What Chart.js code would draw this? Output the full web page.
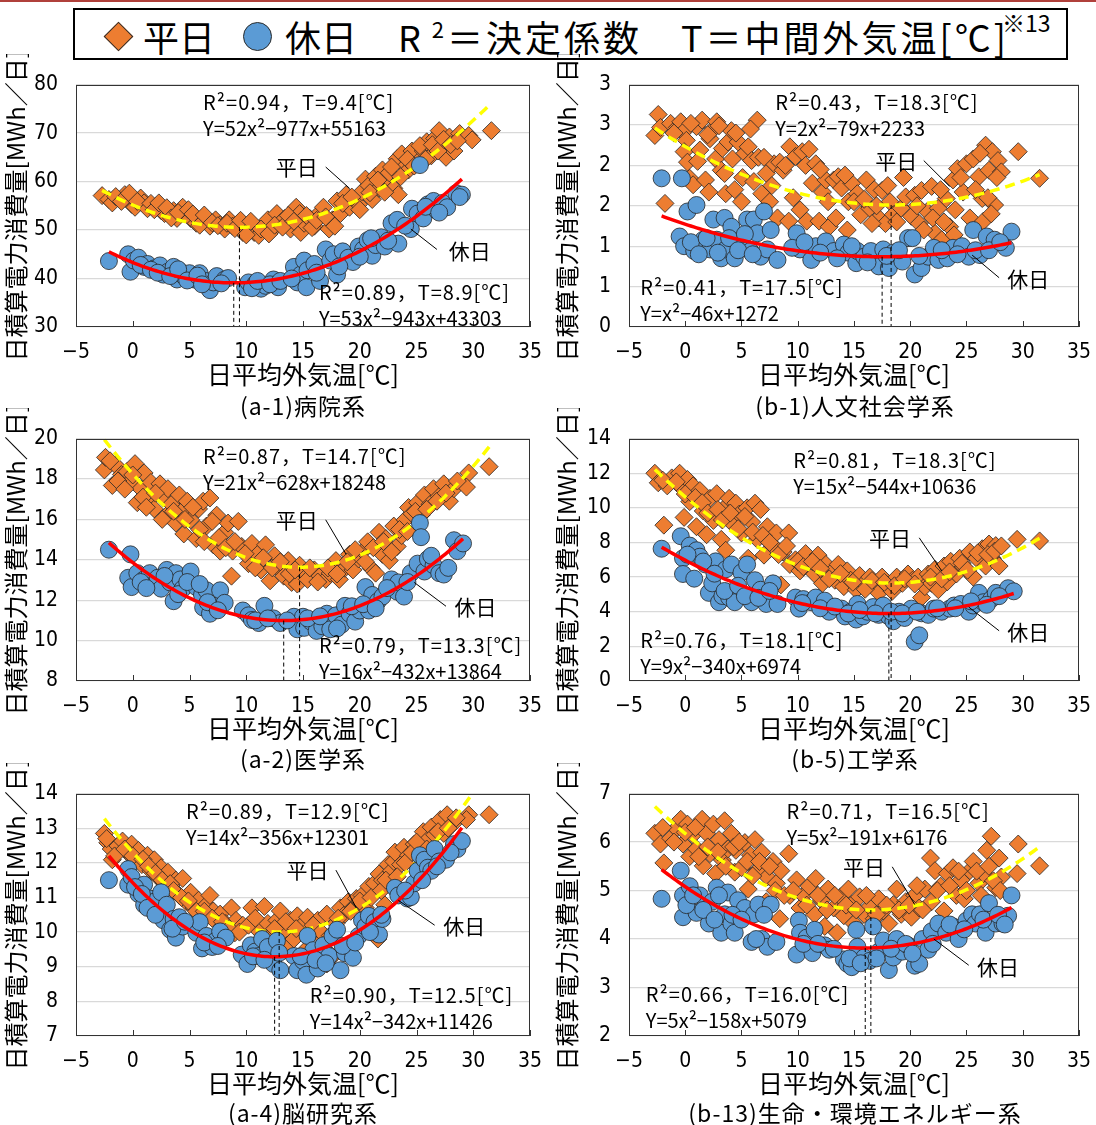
<!DOCTYPE html>
<html lang="ja">
<head>
<meta charset="utf-8">
<title>日平均外気温と日積算電力消費量</title>
<script src="https://cdn.jsdelivr.net/npm/chart.js@4.4.1/dist/chart.umd.min.js"></script>
<style>
  html, body { margin: 0; padding: 0; background: #fff; }
  body { width: 1096px; height: 1125px; position: relative; overflow: hidden;
         font-family: 'Noto Sans CJK JP', 'Noto Sans', sans-serif; color: #000; }
  .topline { position: absolute; left: 0; top: 0; width: 1096px; height: 2px; background: #b0403b; }
  .legend { position: absolute; left: 73px; top: 8px; width: 991px; height: 48px; border: 2px solid #000; }
  .lg { position: absolute; font-size: 36px; line-height: 36px; top: 18px; white-space: nowrap; }
  .lg sup { font-size: 22px; vertical-align: 14px; line-height: 0; }
  .wide { letter-spacing: 3px; }
  .note { position: absolute; font-size: 23px; line-height: 23px; top: 11px; white-space: nowrap; }
  .dia { position: absolute; width: 21px; height: 21px; background: #ED7D31; border: 1px solid #2b2b2b;
         box-sizing: border-box; transform: rotate(45deg); }
  .cir { position: absolute; width: 29px; height: 29px; background: #5B9BD5; border: 1px solid #2b2b2b;
         box-sizing: border-box; border-radius: 50%; }
  canvas { position: absolute; }
  .sub { position: absolute; width: 548px; text-align: center; font-size: 23px; line-height: 28px;
         letter-spacing: 1px; white-space: nowrap; }
</style>
</head>
<body>
<div class="topline"></div>
<div class="legend"></div>
<div class="dia" style="left:108px;top:26px"></div>
<div class="lg" style="left:143px">平日</div>
<div class="cir" style="left:243px;top:22px"></div>
<div class="lg" style="left:285px">休日</div>
<div class="lg wide" style="left:398px">R<sup> 2</sup>＝決定係数</div>
<div class="lg wide" style="left:681px">T＝中間外気温[℃]</div>
<div class="note" style="left:1002px">※13</div>
<div id="panels"></div>

<script>
// ---- axis tick labels ----
const xTickValues = [-5, 0, 5, 10, 15, 20, 25, 30, 35];
const xTickLabels = ['−5', '0', '5', '10', '15', '20', '25', '30', '35'];

// ---- (a-1) 病院系 : [日平均外気温 ℃, 日積算電力消費量 MWh/日] ----
const hospitalWeekday = [
  [-2.7,57.1],[-2.1,56.3],[-1.8,55.6],[-0.7,57.3],[-0.4,56.3],[-0.1,55.3],[0.2,54.7],[0.7,56.6],
  [1.0,55.6],[1.3,54.4],[2.1,55.0],[2.5,54.0],[2.8,53.4],[3.3,53.1],[3.6,54.0],[3.9,52.4],
  [4.4,54.7],[4.7,53.4],[5.1,52.4],[5.6,51.4],[6.1,52.4],[6.5,51.8],[6.8,50.8],[7.3,52.1],
  [7.7,51.1],[8.1,50.2],[8.5,52.1],[8.8,50.8],[9.3,51.4],[9.7,49.5],[10.2,50.5],[10.7,49.5],
  [11.1,48.9],[11.6,50.8],[11.9,52.1],[12.2,49.8],[12.7,53.4],[13.0,51.4],[13.4,52.4],[13.9,50.2],
  [14.4,54.7],[14.7,53.4],[14.8,49.5],[15.1,51.4],[15.6,52.4],[16.0,50.8],[16.4,53.4],[16.8,54.7],
  [17.3,50.2],[17.6,52.1],[18.0,56.0],[18.3,53.4],[18.8,57.3],[19.1,54.7],[19.6,56.3],[19.9,55.3],
  [20.2,57.9],[20.5,60.5],[20.8,59.2],[21.1,56.3],[21.4,61.1],[21.7,58.6],[22.0,62.4],[22.3,60.2],
  [22.6,61.8],[23.0,58.6],[23.3,64.7],[23.4,57.3],[23.7,65.7],[24.0,63.1],[24.3,62.4],[24.6,66.3],
  [25.1,64.0],[25.6,66.3],[25.9,68.2],[26.3,65.3],[26.6,68.9],[27.0,70.5],[27.1,67.3],[27.6,65.0],
  [27.9,69.2],[28.3,66.3],[28.8,69.9],[29.6,69.5],[29.9,68.6],[31.6,70.5],
  [-1.5,56.9],[-1.0,55.9],[-0.3,57.6],[0.4,55.9],[1.6,55.5],[1.9,54.2],[2.3,55.6],[3.0,54.6],
  [3.4,52.5],[4.0,53.6],[4.9,54.2],[5.3,53.3],[5.9,51.0],[6.3,53.1],[7.0,51.5],[7.5,50.9],
  [8.3,51.4],[9.0,50.3],[9.5,52.0],[10.0,49.0],[10.4,51.8],[11.3,50.2],[12.0,49.2],[12.5,51.0],
  [13.2,50.6],[13.7,53.0],[14.2,51.8],[15.3,53.0],[15.8,50.5],[16.2,52.0],[17.0,52.7],[17.8,50.8],
  [18.5,55.5],[19.3,56.8],[20.0,54.2],[20.9,57.7],[21.6,60.3],[22.2,57.8],[22.8,63.0],[23.6,61.0],
  [24.2,64.6],[24.8,63.2],[25.3,67.4],[25.8,64.6],[26.4,67.6],[26.9,66.3],[27.4,68.7],[28.0,67.6],
  [28.6,68.4]
];
const hospitalHoliday = [
  [-2.1,43.6],[-0.4,45.0],[-0.2,41.4],[0.1,43.7],[0.5,44.3],[1.0,42.4],[1.3,43.0],[1.9,42.1],
  [2.4,42.7],[2.7,40.8],[3.1,41.4],[3.6,42.4],[3.9,39.8],[4.2,41.4],[4.5,40.5],[5.0,41.1],
  [5.4,39.8],[5.9,41.1],[6.4,39.5],[6.8,37.6],[7.1,39.2],[7.4,40.5],[8.1,39.8],[8.4,40.1],
  [9.9,38.2],[10.2,39.2],[10.8,38.9],[11.3,37.9],[11.7,38.5],[12.4,39.8],[12.8,38.2],[14.2,42.4],
  [14.5,39.2],[14.8,40.8],[15.1,43.7],[15.3,38.2],[15.4,41.7],[16.0,43.0],[16.5,39.5],[17.0,46.0],
  [17.4,43.7],[17.7,45.0],[18.0,40.8],[18.5,45.6],[19.0,44.3],[19.4,43.4],[19.9,46.6],[20.3,46.0],
  [20.7,47.9],[21.1,44.7],[21.4,46.9],[21.9,48.5],[22.2,46.6],[22.8,51.4],[23.3,52.1],[23.4,47.2],
  [24.5,50.2],[24.6,54.4],[25.1,53.4],[25.3,63.4],[25.6,52.4],[26.0,55.3],[26.5,56.0],[26.8,54.0],
  [27.3,55.6],[27.7,54.7],[28.5,57.6],[29.0,57.3],
  [0.7,42.8],[1.6,41.8],[2.2,41.2],[3.3,40.5],[4.0,41.9],[4.8,39.6],[5.7,40.6],[6.1,38.8],
  [7.8,39.0],[10.5,38.0],[11.0,39.5],[12.1,38.8],[13.0,39.5],[14.0,40.0],[16.2,41.2],[18.2,42.5],
  [20.0,44.5],[21.0,48.3],[22.5,47.8],[24.0,50.9],[25.8,54.8],[27.0,53.6],[28.8,56.8]
];
const hospitalYTicks = ['30', '40', '50', '60', '70', '80'];
const hospitalFitWeekday = { a: 52, b: 977, c: 55163, T: 9.4, r2: '0.94' };
const hospitalFitHoliday = { a: 53, b: 943, c: 43303, T: 8.9, r2: '0.89' };

// ---- (b-1) 人文社会学系 ----
const humanitiesWeekday = [
  [-2.4,2.63],[-2.7,2.37],[-1.8,1.53],[-2.2,2.47],[-1.3,2.52],[-0.7,2.47],[-0.4,2.54],[-0.2,2.41],
  [0.1,2.31],[-0.1,2.17],[0.2,2.04],[0.4,1.84],[0.7,1.76],[1.0,2.48],[1.3,2.19],[1.5,2.56],
  [1.8,1.82],[2.1,1.67],[2.2,2.33],[2.5,2.45],[2.7,2.08],[2.8,2.54],[3.2,1.94],[3.3,2.21],
  [3.6,1.65],[3.8,2.29],[4.1,2.43],[4.2,2.08],[4.4,1.70],[4.7,2.29],[5.0,1.55],[5.3,2.15],
  [5.6,2.23],[5.9,2.06],[6.4,2.56],[6.5,2.10],[6.8,1.65],[7.2,1.90],[7.5,1.55],[7.9,2.02],
  [8.2,1.35],[8.4,2.04],[8.7,1.94],[9.2,1.31],[9.3,2.23],[9.8,2.11],[10.4,2.17],[10.7,2.00],
  [10.8,1.31],[11.3,1.78],[11.6,2.02],[11.9,1.31],[12.2,1.67],[12.5,1.82],[12.8,1.24],[13.2,1.82],
  [13.6,1.86],[13.9,1.72],[14.4,1.20],[14.5,1.55],[14.8,1.78],[15.3,1.65],[15.6,1.39],[16.1,1.82],
  [16.4,1.47],[16.8,1.70],[17.2,1.35],[17.5,1.69],[17.8,1.28],[18.2,1.55],[18.5,1.39],[19.2,1.47],
  [19.6,1.61],[20.1,1.37],[20.4,1.63],[20.8,1.28],[21.0,1.69],[21.5,1.43],[21.9,1.74],[22.2,1.16],
  [22.5,1.47],[22.8,1.08],[23.2,1.59],[23.5,1.24],[23.8,1.82],[23.9,1.14],[24.2,1.96],[24.7,1.67],
  [25.0,2.02],[25.3,1.35],[25.6,2.08],[26.1,1.86],[26.4,1.59],[26.5,1.31],[26.7,2.25],[27.0,1.94],
  [27.3,2.17],[27.5,1.51],[27.8,2.06],[28.1,1.92],[29.6,2.17],[31.5,1.84],
  [-1.0,2.40],[0.5,2.52],[1.1,2.05],[2.0,2.38],[3.0,2.49],[3.5,1.90],[4.5,2.40],[5.1,1.85],
  [5.8,2.45],[6.1,1.80],[7.0,2.10],[7.7,1.75],[8.9,2.00],[9.6,1.60],[10.2,1.45],[11.0,2.20],
  [12.0,1.95],[12.7,1.55],[13.4,1.35],[14.2,1.88],[15.0,1.55],[15.9,1.58],[16.6,1.28],[17.0,1.50],
  [18.0,1.75],[18.8,1.30],[19.4,1.85],[20.6,1.50],[21.2,1.20],[22.0,1.35],[22.7,1.70],[23.0,1.30],
  [24.0,1.45],[24.5,1.85],[25.8,1.70],[26.2,2.15],[26.9,1.60],[27.2,1.40],[27.7,1.85]
];
const humanitiesHoliday = [
  [-2.1,1.84],[-0.3,1.84],[0.2,1.43],[1.0,1.51],[-0.5,1.12],[-0.1,1.00],[0.8,0.94],[1.6,1.08],
  [2.2,0.96],[2.5,1.33],[2.8,1.08],[3.2,0.85],[3.5,1.35],[3.6,0.96],[4.1,1.24],[4.4,0.85],
  [5.0,1.04],[5.5,1.33],[5.8,0.94],[6.1,1.33],[6.4,1.16],[6.7,0.87],[7.0,1.43],[7.3,0.96],
  [7.6,1.20],[8.2,0.83],[9.9,1.16],[10.2,0.96],[11.2,0.83],[11.6,1.00],[12.5,1.06],[13.2,0.94],
  [14.1,1.02],[14.5,0.92],[15.2,0.79],[15.3,0.94],[15.9,0.87],[16.5,0.94],[17.2,0.75],[17.6,0.96],
  [18.1,0.73],[18.5,0.92],[19.3,0.81],[19.8,1.10],[20.2,1.10],[20.4,0.65],[21.0,0.73],[21.6,0.87],
  [22.1,0.98],[22.5,0.83],[23.3,0.85],[23.8,0.98],[24.6,1.00],[25.2,0.87],[25.6,1.20],[26.2,0.89],
  [26.8,1.12],[27.5,1.08],[28.5,0.98],[29.0,1.18],
  [0.5,1.05],[1.2,0.90],[1.9,1.10],[2.9,0.92],[3.9,1.10],[4.7,0.95],[5.3,1.15],[6.0,0.90],
  [9.5,0.98],[10.6,1.05],[12.0,0.92],[13.5,0.85],[14.8,1.00],[16.2,0.80],[17.9,0.88],[19.0,0.95],
  [20.8,0.88],[22.8,0.95],[24.2,0.90],[25.8,0.95],[27.0,0.95],[28.0,1.05]
];
const humanitiesYTicks = ['0', '1', '1', '2', '2', '3', '3'];
const humanitiesFitWeekday = { a: 2, b: 79, c: 2233, T: 18.3, r2: '0.43' };
const humanitiesFitHoliday = { a: 1, b: 46, c: 1272, T: 17.5, r2: '0.41' };

// ---- (a-2) 医学系 ----
const medicineWeekday = [
  [-2.5,18.45],[-2.4,19.07],[-1.8,17.68],[-1.5,18.68],[-1.0,18.22],[-0.5,18.37],[-0.1,17.91],[0.2,18.76],
  [0.4,16.83],[0.7,17.52],[1.0,18.30],[1.5,16.98],[1.6,17.83],[1.9,16.52],[2.4,17.76],[2.7,17.06],
  [3.0,16.21],[3.1,17.52],[3.4,16.75],[3.8,15.82],[4.1,17.21],[4.4,16.44],[4.5,15.28],[4.8,16.90],
  [5.1,15.98],[5.6,15.05],[5.8,16.52],[6.2,16.90],[6.5,15.67],[6.8,17.06],[7.1,14.74],[7.4,16.21],
  [7.7,14.43],[8.1,15.36],[8.4,15.82],[8.7,13.19],[8.8,14.43],[9.3,15.90],[9.6,14.66],[10.2,13.81],
  [10.5,14.81],[11.0,14.27],[11.3,13.50],[11.7,14.74],[12.1,12.96],[12.5,14.20],[12.8,13.58],[13.3,13.19],
  [13.7,13.96],[14.0,12.88],[14.5,12.80],[14.7,13.73],[15.1,13.34],[15.4,13.03],[16.0,13.50],[16.5,13.19],
  [17.0,13.03],[17.4,13.34],[17.9,13.96],[18.2,13.03],[18.7,13.58],[19.1,14.27],[19.4,13.50],[19.9,14.04],
  [20.3,14.43],[20.7,14.89],[21.0,13.58],[21.4,13.34],[21.7,15.36],[22.0,14.27],[22.3,15.05],[22.6,13.96],
  [23.0,15.67],[23.3,14.66],[23.7,15.20],[24.0,15.98],[24.3,16.59],[24.6,16.28],[25.1,16.83],[25.4,16.21],
  [25.7,17.21],[26.2,16.75],[26.5,17.52],[27.0,17.14],[27.4,17.76],[27.9,16.90],[28.3,17.52],[29.6,18.30],
  [29.4,17.60],[31.4,18.61],
  [-2.0,18.9],[-1.3,17.9],[-0.7,17.5],[0.0,18.2],[0.9,17.1],[1.2,16.6],[2.0,17.3],[2.6,16.0],
  [3.6,16.4],[4.6,16.0],[5.3,16.6],[5.9,15.5],[6.3,14.9],[7.0,15.9],[7.6,15.1],[8.2,14.6],
  [9.0,14.9],[9.9,14.3],[10.8,13.6],[11.5,14.1],[12.3,13.6],[13.0,13.9],[13.8,13.3],[14.3,13.5],
  [15.6,13.6],[16.3,12.9],[17.2,13.6],[18.0,13.3],[18.9,13.9],[19.6,14.5],[20.5,13.9],[21.2,14.6],
  [22.1,14.9],[22.8,14.4],[23.5,15.5],[24.2,15.4],[24.9,16.4],[25.9,16.5],[26.8,16.9],[27.6,17.3],
  [28.6,17.9]
];
const medicineHoliday = [
  [-2.1,14.50],[-0.2,14.27],[-0.4,13.11],[-0.1,12.65],[0.4,13.34],[1.0,13.03],[1.5,13.34],[1.9,12.80],
  [2.2,13.11],[2.5,12.57],[3.0,13.50],[3.3,12.88],[3.6,11.95],[3.8,13.34],[4.2,13.03],[4.4,12.57],
  [5.1,13.42],[5.6,12.65],[6.1,12.26],[6.2,11.64],[6.5,12.49],[6.8,11.33],[7.3,11.72],[7.7,12.49],
  [8.1,11.87],[9.7,11.49],[10.2,11.25],[10.5,11.02],[11.1,10.87],[11.6,11.72],[12.4,11.10],[13.0,10.87],
  [14.2,11.18],[14.5,10.56],[15.0,11.18],[15.1,10.63],[15.7,10.94],[16.2,10.48],[16.7,10.71],[17.1,11.33],
  [17.4,10.56],[17.9,11.25],[18.4,10.79],[18.7,11.72],[19.1,11.33],[19.6,10.94],[20.0,11.49],[20.5,12.65],
  [20.8,11.49],[21.1,12.26],[21.6,11.95],[22.0,12.18],[22.8,13.03],[23.3,12.42],[23.4,12.88],[23.9,12.18],
  [24.5,13.34],[25.1,13.81],[25.3,15.82],[25.4,15.12],[25.7,13.42],[26.0,14.04],[26.5,13.73],[27.0,13.34],
  [27.4,13.27],[28.3,14.97],[28.6,14.43],[29.1,14.81],
  [0.7,12.9],[1.2,12.6],[2.8,13.2],[4.0,12.3],[4.8,12.9],[5.9,12.8],[6.6,11.9],[7.5,11.5],
  [10.8,11.0],[11.9,11.1],[13.6,11.0],[15.4,11.1],[16.5,11.2],[18.0,10.6],[19.3,11.7],[20.3,11.8],
  [21.4,11.6],[22.4,12.6],[24.2,12.9],[26.3,14.2],[27.8,13.6]
];
const medicineYTicks = ['8', '10', '12', '14', '16', '18', '20'];
const medicineFitWeekday = { a: 21, b: 628, c: 18248, T: 14.7, r2: '0.87' };
const medicineFitHoliday = { a: 16, b: 432, c: 13864, T: 13.3, r2: '0.79' };

// ---- (b-5) 工学系 ----
const engineeringWeekday = [
  [-2.7,12.0],[-2.4,11.45],[-1.9,9.0],[-1.6,11.27],[-1.2,11.73],[-0.5,12.0],[-0.2,11.09],[-0.1,9.45],
  [0.2,11.64],[0.4,10.36],[0.7,11.27],[1.0,8.91],[1.3,11.0],[1.6,9.82],[1.9,8.45],[2.2,10.55],
  [2.5,9.27],[2.8,10.82],[3.2,8.18],[3.5,10.0],[3.6,7.55],[3.9,10.55],[4.2,9.09],[4.5,10.27],
  [4.8,9.64],[5.0,8.55],[5.5,10.0],[5.6,7.09],[5.9,9.18],[6.2,10.27],[6.4,8.18],[6.7,9.91],
  [7.0,7.27],[7.3,8.91],[7.8,7.82],[8.1,8.55],[8.5,5.55],[8.7,7.45],[9.2,8.55],[9.3,6.73],
  [9.8,7.0],[10.2,6.36],[10.7,7.36],[11.0,6.64],[11.5,6.18],[11.8,7.27],[12.2,5.64],[12.5,6.73],
  [13.0,6.27],[13.3,5.82],[13.6,6.73],[14.1,5.45],[14.4,6.36],[14.7,5.82],[15.2,5.27],[15.5,6.09],
  [15.9,5.64],[16.4,6.0],[16.8,5.45],[17.2,5.09],[17.5,6.0],[17.9,5.55],[18.4,5.18],[18.8,6.0],
  [19.3,5.64],[19.8,6.18],[20.2,5.82],[20.7,6.0],[21.0,4.82],[21.3,5.45],[21.6,6.18],[21.9,5.64],
  [22.2,6.45],[22.5,5.27],[23.0,6.64],[23.3,5.73],[23.6,6.91],[24.1,6.18],[24.4,7.09],[24.8,6.55],
  [25.3,7.45],[25.6,6.0],[25.9,7.09],[26.4,7.64],[26.7,6.64],[27.0,7.91],[27.3,7.09],[27.6,7.82],
  [27.9,6.64],[29.5,8.18],[31.5,8.09],
  [-2.0,11.6],[-0.8,11.5],[0.0,10.8],[0.9,10.6],[1.5,10.3],[2.0,9.7],[2.9,9.9],[3.3,9.3],
  [4.0,9.7],[4.7,8.8],[5.3,9.5],[6.0,8.6],[6.9,8.4],[7.5,8.0],[8.3,7.3],[9.0,7.8],
  [10.0,6.9],[10.5,6.6],[11.3,6.9],[12.0,6.5],[12.8,5.9],[13.8,6.2],[14.9,5.7],[16.0,5.3],
  [16.6,5.8],[17.7,5.7],[18.6,5.5],[19.5,5.9],[20.4,5.6],[21.8,6.0],[22.8,5.9],[23.5,6.3],
  [24.6,6.8],[25.1,6.4],[26.0,7.4],[26.9,7.3],[27.5,7.5],[28.1,7.8]
];
const engineeringHoliday = [
  [-2.1,7.64],[-0.4,8.36],[-0.2,7.09],[-0.2,6.18],[0.4,7.82],[0.8,5.91],[1.0,7.55],[1.3,7.18],
  [1.8,6.73],[2.1,5.09],[2.4,5.64],[2.7,6.91],[3.0,4.55],[3.3,4.91],[3.6,6.45],[3.9,4.82],
  [4.1,6.73],[4.4,4.55],[5.0,6.27],[5.5,6.73],[5.9,4.55],[6.2,5.82],[6.7,5.27],[7.2,4.45],
  [7.8,5.64],[8.2,4.45],[9.8,4.82],[10.1,4.18],[10.5,4.73],[11.2,4.55],[11.6,4.82],[12.4,4.64],
  [12.8,4.0],[13.9,4.18],[14.2,3.73],[14.7,4.0],[15.2,3.55],[15.3,4.45],[15.8,3.73],[16.2,4.0],
  [16.7,4.27],[17.2,3.82],[17.6,4.36],[18.1,3.73],[18.5,3.45],[19.0,4.0],[19.5,3.64],[20.1,4.18],
  [20.4,2.27],[20.8,2.64],[21.0,3.91],[21.6,3.82],[22.1,4.18],[22.8,4.0],[23.5,4.18],[23.9,4.36],
  [24.5,4.45],[25.2,4.0],[25.6,4.36],[26.1,5.09],[26.5,4.55],[27.2,4.73],[27.6,5.09],[28.7,5.36],
  [29.2,5.18],
  [0.2,7.3],[1.6,6.9],[2.6,6.2],[3.5,5.2],[4.7,5.5],[5.3,4.9],[6.5,4.8],[7.5,5.2],
  [10.4,4.5],[12.0,4.2],[13.3,4.3],[14.5,3.9],[15.5,4.1],[16.9,3.9],[18.3,4.0],[19.3,3.9],
  [20.6,4.0],[22.4,4.2],[24.0,4.2],[25.4,4.6],[26.8,4.4],[27.9,4.9]
];
const engineeringYTicks = ['0', '2', '4', '6', '8', '10', '12', '14'];
const engineeringFitWeekday = { a: 15, b: 544, c: 10636, T: 18.3, r2: '0.81' };
const engineeringFitHoliday = { a: 9, b: 340, c: 6974, T: 18.1, r2: '0.76' };

// ---- (a-4) 脳研究系 ----
const brainWeekday = [
  [-2.5,12.85],[-2.2,12.58],[-1.8,12.09],[-1.9,12.40],[-1.3,12.49],[-0.9,12.63],[-0.5,12.31],[-0.1,12.54],
  [0.2,12.13],[0.5,12.36],[0.8,11.95],[1.3,12.22],[1.6,11.77],[1.9,12.09],[2.2,11.59],[2.5,11.86],
  [2.8,11.41],[3.1,11.73],[3.4,11.28],[3.8,11.50],[4.1,11.06],[4.4,11.55],[4.7,10.88],[5.1,11.15],
  [5.4,10.70],[5.8,10.92],[6.1,10.52],[6.5,10.79],[6.8,11.06],[7.1,10.61],[7.4,10.34],[7.7,10.52],
  [8.2,10.25],[8.7,10.70],[9.0,9.98],[9.1,10.34],[9.7,10.20],[10.5,10.70],[11.0,10.07],[11.6,10.74],
  [11.9,10.25],[12.2,9.89],[12.7,10.34],[13.0,10.61],[13.3,10.02],[13.6,9.62],[13.9,10.34],[14.2,9.80],
  [14.5,10.47],[14.8,10.16],[15.1,9.44],[15.4,10.43],[15.7,9.98],[16.0,9.35],[16.3,10.34],[16.8,9.80],
  [17.1,10.52],[17.1,9.08],[17.6,9.30],[17.9,10.25],[18.3,10.70],[18.7,10.52],[19.0,10.88],[19.4,10.70],
  [19.7,10.97],[20.2,11.06],[20.5,10.70],[20.8,11.32],[20.9,10.34],[21.3,11.41],[21.6,9.80],[21.7,11.68],
  [22.0,11.50],[22.2,10.79],[22.5,11.95],[22.8,11.77],[23.0,12.04],[23.1,12.31],[23.6,11.95],[23.9,12.45],
  [24.3,12.22],[24.8,12.54],[25.3,12.31],[25.6,12.90],[26.0,12.67],[26.3,13.03],[26.6,12.81],[27.1,13.25],
  [27.4,12.85],[27.7,13.39],[28.2,13.12],[29.6,13.39],[29.4,13.25],[31.4,13.39],
  [-2.3,12.7],[-1.6,12.2],[-0.7,12.4],[0.0,12.2],[0.9,12.1],[1.4,11.9],[2.0,11.7],[2.6,11.5],
  [3.3,11.4],[3.6,11.2],[4.3,11.0],[4.9,10.9],[5.6,10.6],[6.3,10.6],[7.0,10.4],[7.9,10.3],
  [8.5,10.1],[9.4,10.0],[10.2,10.2],[10.8,10.4],[12.5,10.1],[13.5,10.3],[14.4,10.1],[15.9,10.2],
  [16.6,10.0],[17.4,9.9],[18.1,10.4],[19.2,10.6],[20.0,10.9],[21.0,11.0],[21.9,11.2],[22.3,11.5],
  [23.3,11.6],[24.0,12.0],[24.6,12.3],[25.0,12.6],[25.9,12.4],[26.9,12.9],[27.8,13.0],[28.5,13.3]
];
const brainHoliday = [
  [-2.1,11.50],[-0.4,11.82],[-0.4,11.37],[-0.1,11.59],[0.5,11.10],[1.0,11.37],[1.0,10.79],[1.5,10.97],
  [1.9,10.88],[2.2,10.52],[2.5,11.15],[2.7,10.34],[3.0,10.79],[3.3,10.07],[3.6,10.38],[3.8,9.84],
  [4.1,10.43],[4.4,10.16],[5.6,9.98],[5.9,10.29],[6.1,9.53],[6.5,9.89],[7.0,9.57],[7.3,9.75],
  [7.7,10.02],[8.2,9.84],[9.6,9.35],[10.1,9.08],[10.4,9.62],[10.8,9.44],[11.1,9.31],[11.4,9.80],
  [11.9,9.57],[12.4,9.08],[12.7,9.75],[13.0,8.90],[14.2,9.31],[14.5,8.90],[15.0,9.17],[15.3,8.77],
  [15.4,9.89],[15.9,9.48],[16.3,8.95],[16.8,9.62],[17.3,9.31],[17.6,9.89],[18.0,10.07],[18.3,8.90],
  [18.7,9.39],[19.1,9.57],[19.4,9.26],[19.9,9.89],[20.2,10.34],[20.5,10.16],[20.8,10.47],[21.3,10.29],
  [21.7,9.93],[22.0,10.38],[23.1,11.28],[23.4,11.06],[24.2,10.97],[24.5,11.01],[24.8,11.41],[25.1,11.77],
  [25.3,12.22],[25.7,12.09],[26.0,11.86],[26.3,11.77],[26.6,12.40],[27.0,12.04],[27.6,12.09],[28.3,12.54],
  [28.6,12.40],[29.0,12.63],
  [0.2,11.3],[0.8,11.1],[1.3,10.7],[2.0,10.5],[3.5,10.1],[4.6,10.3],[6.3,9.7],[7.5,9.6],
  [10.6,9.3],[11.6,9.2],[12.9,9.4],[14.8,9.3],[16.1,9.2],[17.0,9.1],[18.5,9.6],[19.6,9.7],
  [20.9,10.0],[21.9,10.5],[24.0,11.2],[25.5,11.5],[26.8,11.9],[28.0,12.3]
];
const brainYTicks = ['7', '8', '9', '10', '11', '12', '13', '14'];
const brainFitWeekday = { a: 14, b: 356, c: 12301, T: 12.9, r2: '0.89' };
const brainFitHoliday = { a: 14, b: 342, c: 11426, T: 12.5, r2: '0.90' };

// ---- (b-13) 生命・環境エネルギー系 ----
const lifeEnvWeekday = [
  [-2.7,6.18],[-2.2,5.96],[-1.9,5.57],[-1.3,6.08],[-0.8,6.28],[-0.4,6.47],[-0.2,5.96],[0.2,6.37],
  [0.4,5.70],[0.7,6.15],[1.0,5.86],[1.5,6.47],[1.6,5.51],[1.9,6.18],[2.2,5.76],[2.5,6.37],
  [2.7,5.35],[3.0,6.05],[3.3,5.63],[3.5,6.44],[3.8,5.86],[4.1,6.18],[4.4,5.38],[4.5,5.83],
  [5.0,5.47],[5.3,5.99],[5.6,5.03],[5.8,5.73],[6.2,6.05],[6.4,5.41],[6.8,5.79],[7.2,4.77],
  [7.3,5.28],[7.8,5.60],[8.1,5.15],[8.4,4.42],[8.5,5.41],[9.2,5.76],[9.3,4.90],[9.9,5.22],
  [10.2,4.64],[10.5,4.90],[11.0,5.09],[11.5,4.51],[11.6,5.25],[12.1,4.80],[12.4,4.26],[12.7,5.03],
  [13.2,4.64],[13.5,4.13],[13.8,4.87],[14.1,4.48],[14.5,5.03],[14.8,4.71],[15.0,4.32],[15.5,4.87],
  [15.9,4.51],[16.4,4.67],[16.8,4.42],[17.2,4.83],[17.6,4.58],[18.1,4.32],[18.5,4.71],[18.8,5.03],
  [19.2,4.51],[19.6,4.77],[20.1,4.45],[20.4,4.90],[20.8,4.64],[21.3,5.03],[21.8,5.67],[21.9,4.77],
  [22.2,5.41],[22.7,5.09],[23.0,4.58],[23.3,5.35],[23.8,5.47],[24.1,4.90],[24.5,5.22],[24.8,4.83],
  [25.3,5.41],[25.6,5.60],[26.1,5.15],[26.5,5.35],[26.8,5.83],[27.2,6.12],[27.6,5.06],[27.9,5.67],
  [28.1,5.28],[29.5,5.35],[29.6,5.96],[31.5,5.51],
  [-2.0,6.3],[-1.0,6.0],[0.0,6.2],[0.9,6.3],[1.2,5.7],[2.0,5.9],[2.9,5.8],[3.6,5.5],
  [4.3,5.9],[4.8,6.0],[5.5,5.6],[6.0,5.3],[6.6,5.6],[7.5,5.5],[8.0,5.0],[8.8,4.9],
  [9.6,5.0],[10.8,4.7],[11.8,4.9],[12.6,4.6],[13.3,4.9],[14.3,4.7],[15.2,4.6],[16.1,4.9],
  [17.0,4.5],[17.9,4.7],[19.0,4.6],[19.9,4.7],[20.6,5.1],[21.1,4.6],[22.4,5.0],[23.5,5.1],
  [24.3,5.4],[25.0,5.0],[25.9,5.4],[26.3,4.9],[27.0,5.5],[27.4,5.2],[28.0,5.0]
];
const lifeEnvHoliday = [
  [-2.1,4.83],[-0.4,5.41],[-0.2,4.90],[-0.2,4.45],[0.4,5.09],[1.0,4.54],[1.3,4.90],[2.1,4.32],
  [2.4,4.77],[2.8,5.06],[3.2,4.13],[3.5,4.51],[3.8,4.96],[4.1,4.32],[4.4,4.13],[4.7,4.80],
  [5.3,4.64],[5.9,3.94],[6.1,4.51],[6.5,4.71],[6.8,4.00],[7.3,3.84],[7.6,4.71],[8.1,3.94],
  [9.9,3.68],[10.1,4.38],[10.2,4.13],[10.8,4.03],[11.3,3.71],[11.5,4.19],[12.4,3.87],[12.8,3.78],
  [14.1,3.58],[14.4,3.49],[14.8,3.42],[15.2,4.19],[15.3,3.84],[15.9,3.62],[16.4,3.55],[16.7,4.26],
  [17.2,3.74],[17.6,3.97],[18.1,3.36],[18.5,3.62],[18.8,4.00],[19.3,3.74],[19.8,3.87],[20.4,3.45],
  [20.8,3.49],[21.1,4.00],[21.6,3.78],[21.9,4.16],[22.5,4.32],[23.2,4.13],[23.8,4.26],[24.3,4.00],
  [25.0,4.38],[25.5,4.51],[25.8,4.32],[26.2,4.51],[26.7,4.13],[27.0,4.74],[27.6,4.32],[28.2,4.32],
  [28.7,4.48],[29.0,4.90],
  [0.1,4.7],[0.7,4.9],[1.6,4.6],[2.6,4.4],[3.0,4.9],[4.2,4.5],[5.0,4.4],[6.3,4.0],
  [7.0,4.5],[10.5,3.9],[11.8,3.9],[13.2,3.8],[14.6,3.6],[15.6,3.5],[17.0,3.6],[18.3,3.8],
  [19.6,3.9],[20.2,3.7],[22.0,3.9],[23.5,4.3],[24.8,4.2],[26.5,4.4],[27.8,4.5],[28.4,4.3]
];
const lifeEnvYTicks = ['2', '3', '4', '5', '6', '7'];
const lifeEnvFitWeekday = { a: 5, b: 191, c: 6176, T: 16.5, r2: '0.71' };
const lifeEnvFitHoliday = { a: 5, b: 158, c: 5079, T: 16.0, r2: '0.66' };

// ---- panel setup: axis ranges and where the fit labels sit (in axis units) ----
const panels = [
  { title: '(a-1)病院系', weekday: hospitalWeekday, holiday: hospitalHoliday,
    fitW: hospitalFitWeekday, fitH: hospitalFitHoliday, yMin: 30, yStep: 10, yTicks: hospitalYTicks,
    wText: [6.2, 76.3], hText: [16.4, 37.2],
    wLabel: [14.45, 62.9], wLeader: [[17.0, 63.0], [19.1, 58.6]],
    hLabel: [29.7, 45.6], hLeader: [[26.8, 46.0], [24.5, 50.2]] },
  { title: '(b-1)人文社会学系', weekday: humanitiesWeekday, holiday: humanitiesHoliday,
    fitW: humanitiesFitWeekday, fitH: humanitiesFitHoliday, yMin: 0, yStep: 0.5, yTicks: humanitiesYTicks,
    wText: [8.0, 2.78], hText: [-4.0, 0.49],
    wLabel: [18.75, 2.06], wLeader: [[21.2, 2.06], [23.5, 1.74]],
    hLabel: [30.5, 0.59], hLeader: [[27.9, 0.61], [25.5, 0.89]] },
  { title: '(a-2)医学系', weekday: medicineWeekday, holiday: medicineHoliday,
    fitW: medicineFitWeekday, fitH: medicineFitHoliday, yMin: 8, yStep: 2, yTicks: medicineYTicks,
    wText: [6.2, 19.12], hText: [16.4, 9.75],
    wLabel: [14.45, 15.98], wLeader: [[17.0, 15.98], [18.8, 14.27]],
    hLabel: [30.2, 11.67], hLeader: [[27.6, 11.7], [24.8, 12.88]] },
  { title: '(b-5)工学系', weekday: engineeringWeekday, holiday: engineeringHoliday,
    fitW: engineeringFitWeekday, fitH: engineeringFitHoliday, yMin: 0, yStep: 2, yTicks: engineeringYTicks,
    wText: [9.6, 12.73], hText: [-4.0, 2.36],
    wLabel: [18.2, 8.27], wLeader: [[20.8, 8.27], [22.8, 6.36]],
    hLabel: [30.5, 2.82], hLeader: [[27.9, 2.9], [25.2, 4.27]] },
  { title: '(a-4)脳研究系', weekday: brainWeekday, holiday: brainHoliday,
    fitW: brainFitWeekday, fitH: brainFitHoliday, yMin: 7, yStep: 1, yTicks: brainYTicks,
    wText: [4.7, 13.5], hText: [15.6, 8.18],
    wLabel: [15.4, 11.79], wLeader: [[17.9, 11.79], [19.7, 10.7]],
    hLabel: [29.2, 10.18], hLeader: [[26.6, 10.2], [23.4, 10.92]] },
  { title: '(b-13)生命・環境エネルギー系', weekday: lifeEnvWeekday, holiday: lifeEnvHoliday,
    fitW: lifeEnvFitWeekday, fitH: lifeEnvFitHoliday, yMin: 2, yStep: 1, yTicks: lifeEnvYTicks,
    wText: [9.0, 6.64], hText: [-3.5, 2.85],
    wLabel: [15.9, 5.49], wLeader: [[18.4, 5.49], [20.4, 4.71]],
    hLabel: [27.8, 3.42], hLeader: [[25.2, 3.46], [22.1, 4.0]] }
];

// ---- page geometry ----
const colGeo = [
  { left: 0,   yWidth: 76, padRight: 18, yTitlePad: 1, subCenter: 303 },
  { left: 548, yWidth: 81, padRight: 14, yTitlePad: 4, subCenter: 855 }
];
const rowPlotTop = [69, 423, 778];
const rowSubY = [405, 758, 1112];
const PLOT_H = 258, X_AXIS_H = 62, PAD_TOP = 15;

const TICK_FONT = "'Liberation Sans Narrow', 'DejaVu Sans Condensed', 'Noto Sans CJK JP', sans-serif";
const JP_FONT = "'Noto Sans CJK JP', 'Noto Sans', sans-serif";

// quadratic trend: Y[kWh] = a x^2 - b x + c, with the vertex at the stated T (a = b / 2T)
function trend(fit, x) {
  const a = fit.b / (2 * fit.T);
  return (a * x * x - fit.b * x + fit.c) / 1000;
}
function trendLine(fit, pts) {
  const xs = pts.map(p => p[0]);
  const x0 = Math.min(...xs), x1 = Math.max(...xs);
  const out = [];
  const n = 120;
  for (let i = 0; i <= n; i++) {
    const x = x0 + (x1 - x0) * i / n;
    out.push({ x, y: trend(fit, x) });
  }
  return out;
}
function eqText(fit) {
  return 'Y=' + (fit.a === 1 ? '' : fit.a) + 'x²−' + fit.b + 'x+' + fit.c;
}
function r2Text(fit) {
  return 'R²=' + fit.r2 + '，T=' + fit.T.toFixed(1) + '[℃]';
}

// frame, inner tick marks, fit labels and leader lines
const decor = {
  id: 'decor',
  afterDatasetsDraw(chart, args, opts) {
    const p = opts.panel;
    if (!p) return;
    const { ctx, chartArea: ca, scales: { x, y } } = chart;
    ctx.save();
    ctx.strokeStyle = '#333';
    ctx.lineWidth = 1;
    ctx.beginPath();
    xTickValues.forEach(v => {
      const px = Math.round(x.getPixelForValue(v)) + 0.5;
      ctx.moveTo(px, ca.bottom);
      ctx.lineTo(px, ca.bottom - 6);
    });
    ctx.stroke();
    ctx.strokeRect(Math.round(ca.left) + 0.5, Math.round(ca.top) + 0.5,
                   Math.round(ca.width) - 1, Math.round(ca.height) - 1);

    ctx.fillStyle = '#000';
    ctx.font = '20px ' + JP_FONT;
    ctx.textAlign = 'left';
    ctx.textBaseline = 'middle';
    const block = (pos, fit) => {
      const px = x.getPixelForValue(pos[0]);
      const py = y.getPixelForValue(pos[1]);
      ctx.letterSpacing = '1px';
      ctx.fillText(r2Text(fit), px, py);
      ctx.letterSpacing = '0px';
      ctx.fillText(eqText(fit), px, py + 26);
    };
    block(p.wText, p.fitW);
    block(p.hText, p.fitH);

    ctx.textAlign = 'center';
    ctx.font = '21px ' + JP_FONT;
    ctx.fillText('平日', x.getPixelForValue(p.wLabel[0]), y.getPixelForValue(p.wLabel[1]));
    ctx.fillText('休日', x.getPixelForValue(p.hLabel[0]), y.getPixelForValue(p.hLabel[1]));
    ctx.strokeStyle = '#000';
    ctx.lineWidth = 1;
    [p.wLeader, p.hLeader].forEach(l => {
      ctx.beginPath();
      ctx.moveTo(x.getPixelForValue(l[0][0]), y.getPixelForValue(l[0][1]));
      ctx.lineTo(x.getPixelForValue(l[1][0]), y.getPixelForValue(l[1][1]));
      ctx.stroke();
    });
    ctx.restore();
  }
};

const host = document.getElementById('panels');
panels.forEach((p, idx) => {
  const col = idx % 2, row = Math.floor(idx / 2);
  const g = colGeo[col];
  const yVals = p.yTicks.map((_, i) => +(p.yMin + i * p.yStep).toFixed(3));
  const yMax = yVals[yVals.length - 1];

  const canvas = document.createElement('canvas');
  canvas.width = 548;
  canvas.height = PAD_TOP + PLOT_H + X_AXIS_H;
  canvas.style.left = g.left + 'px';
  canvas.style.top = (rowPlotTop[row] - PAD_TOP) + 'px';
  host.appendChild(canvas);

  const sub = document.createElement('div');
  sub.className = 'sub';
  sub.textContent = p.title;
  sub.style.left = (g.subCenter - 274) + 'px';
  sub.style.top = (rowSubY[row] - 14) + 'px';
  host.appendChild(sub);

  const valley = (fit) => [{ x: fit.T, y: trend(fit, fit.T) }, { x: fit.T, y: p.yMin }];

  new Chart(canvas, {
    type: 'scatter',
    data: {
      datasets: [
        { label: '平日T', data: valley(p.fitW), showLine: true, pointRadius: 0,
          borderColor: '#000', borderWidth: 1, borderDash: [4, 3], order: 0 },
        { label: '休日T', data: valley(p.fitH), showLine: true, pointRadius: 0,
          borderColor: '#000', borderWidth: 1, borderDash: [4, 3], order: 0 },
        { label: '休日近似', data: trendLine(p.fitH, p.holiday), showLine: true, pointRadius: 0,
          borderColor: '#FF0000', borderWidth: 3.5, order: 1 },
        { label: '休日', data: p.holiday.map(([x, y]) => ({ x, y })), pointStyle: 'circle',
          pointRadius: 8.5, backgroundColor: '#5B9BD5', borderColor: '#262626', borderWidth: 0.8, order: 2 },
        { label: '平日近似', data: trendLine(p.fitW, p.weekday), showLine: true, pointRadius: 0,
          borderColor: '#FFFF00', borderWidth: 3.5, borderDash: [10, 6], order: 3 },
        { label: '平日', data: p.weekday.map(([x, y]) => ({ x, y })), pointStyle: 'rectRot',
          pointRadius: 9, backgroundColor: '#ED7D31', borderColor: '#262626', borderWidth: 0.8, order: 4 }
      ]
    },
    options: {
      responsive: false,
      animation: false,
      events: [],
      devicePixelRatio: 1,
      layout: { padding: { left: 0, right: g.padRight, top: PAD_TOP, bottom: 0 } },
      plugins: { legend: { display: false }, tooltip: { enabled: false }, decor: { panel: p } },
      scales: {
        x: {
          type: 'linear', min: -5, max: 35,
          afterBuildTicks: s => { s.ticks = xTickValues.map(v => ({ value: v })); },
          afterFit: s => { s.height = X_AXIS_H; },
          ticks: { callback: (v, i) => xTickLabels[i], autoSkip: false, maxRotation: 0,
                   padding: 5, color: '#000', font: { family: TICK_FONT, size: 21 } },
          grid: { display: false },
          border: { display: false },
          title: { display: true, text: '日平均外気温[℃]', color: '#000',
                   font: { family: JP_FONT, size: 25 }, padding: { top: 0, bottom: 0 } }
        },
        y: {
          type: 'linear', min: p.yMin, max: yMax,
          afterBuildTicks: s => { s.ticks = yVals.map(v => ({ value: v })); },
          afterFit: s => { s.width = g.yWidth; },
          ticks: { callback: (v, i) => p.yTicks[i], autoSkip: false, padding: 18,
                   color: '#000', font: { family: TICK_FONT, size: 21 } },
          grid: { color: '#d9d9d9', lineWidth: 1.3, drawTicks: false },
          border: { display: false },
          title: { display: true, text: '日積算電力消費量[MWh／日]', color: '#000',
                   font: { family: JP_FONT, size: 24 }, padding: { top: g.yTitlePad, bottom: 0 } }
        }
      }
    },
    plugins: [decor]
  });
});
</script>
</body>
</html>
